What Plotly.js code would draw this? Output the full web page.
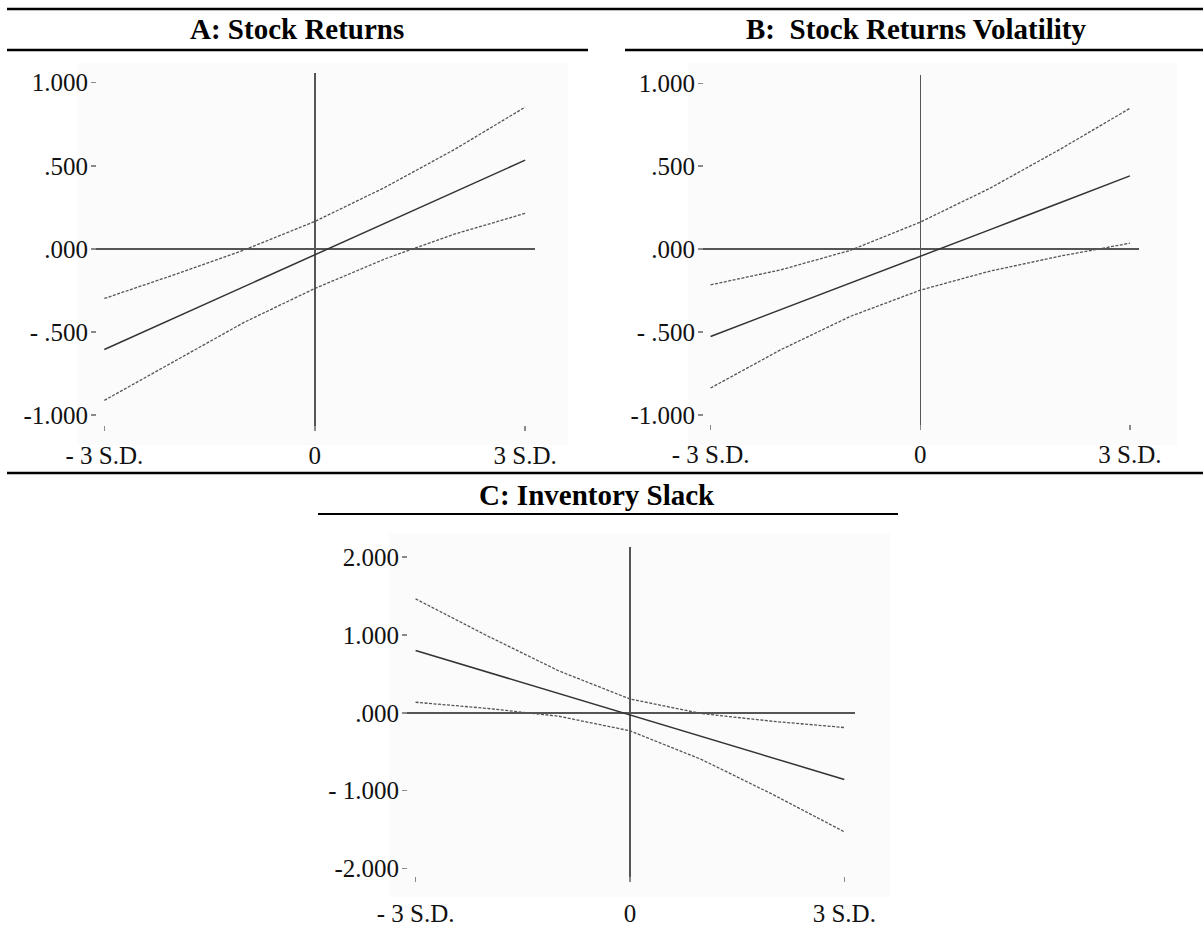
<!DOCTYPE html>
<html>
<head>
<meta charset="utf-8">
<script src="https://cdn.plot.ly/plotly-3.0.1.min.js"></script>
<style>html,body{margin:0;padding:0;background:#fff;} #chart{width:1203px;height:934px;}</style>
</head>
<body>
<div id="chart"></div>
<script>
// ---- data ----
const sdPoints = [-3, -2, -1, 0, 1, 2, 3];
const xTickVals = [-3, 0, 3];
const xTickText = ['- 3 S.D.', '0', '3 S.D.'];

const panelATitle = 'A: Stock Returns';
const meanA  = [-0.605, -0.415, -0.225, -0.035, 0.155, 0.345, 0.534];
const upperA = [-0.298, -0.155, -0.005, 0.165, 0.370, 0.600, 0.853];
const lowerA = [-0.911, -0.675, -0.440, -0.238, -0.060, 0.090, 0.214];

const panelBTitle = 'B:\u00a0 Stock Returns Volatility';
const meanB  = [-0.526, -0.366, -0.206, -0.044, 0.118, 0.280, 0.442];
const upperB = [-0.215, -0.125, -0.007, 0.163, 0.368, 0.602, 0.849];
const lowerB = [-0.837, -0.607, -0.405, -0.247, -0.132, -0.042, 0.036];

const panelCTitle = 'C: Inventory Slack';
const meanC  = [0.800, 0.525, 0.250, -0.028, -0.305, -0.580, -0.857];
const upperC = [1.464, 0.990, 0.540, 0.177, -0.010, -0.110, -0.190];
const lowerC = [0.135, 0.056, -0.044, -0.232, -0.600, -1.050, -1.530];

const yTickValsAB = [1, 0.5, 0, -0.5, -1];
const yTickTextAB = ['1.000', '.500', '.000', '- .500', '-1.000'];
const yTickValsC = [2, 1, 0, -1, -2];
const yTickTextC = ['2.000', '1.000', '.000', '- 1.000', '-2.000'];

// ---- styling helpers ----
const W = 1203, H = 934;
const FONT = 'Liberation Serif, Times New Roman, serif';
const px = v => v / W;
const py = v => 1 - v / H;

function lineTrace(y, xa, ya, dashed) {
  return {
    type: 'scatter', mode: 'lines', x: sdPoints, y: y,
    xaxis: xa, yaxis: ya, hoverinfo: 'skip', showlegend: false,
    line: dashed ? {color: '#555555', width: 1.3, dash: '3px,1.5px'}
                 : {color: '#333333', width: 1.5}
  };
}

const data = [
  lineTrace(upperA, 'x', 'y', true), lineTrace(lowerA, 'x', 'y', true), lineTrace(meanA, 'x', 'y', false),
  lineTrace(upperB, 'x2', 'y2', true), lineTrace(lowerB, 'x2', 'y2', true), lineTrace(meanB, 'x2', 'y2', false),
  lineTrace(upperC, 'x3', 'y3', true), lineTrace(lowerC, 'x3', 'y3', true), lineTrace(meanC, 'x3', 'y3', false)
];

function xAxis(domainPx, range, anchor, standoff) {
  return {
    domain: [px(domainPx[0]), px(domainPx[1])], range: range, anchor: anchor,
    showgrid: false, showline: false, zeroline: true, zerolinecolor: '#555555', zerolinewidth: 1.5,
    tickmode: 'array', tickvals: xTickVals, ticktext: xTickText,
    ticks: 'inside', ticklen: 5, tickwidth: 1.5, tickcolor: '#8a8a8a',
    ticklabelstandoff: standoff,
    tickfont: {family: FONT, size: 25, color: '#111'}, fixedrange: true
  };
}
function yAxis(domainPx, range, anchor, vals, text) {
  return {
    domain: [py(domainPx[1]), py(domainPx[0])], range: range, anchor: anchor,
    showgrid: false, showline: false, zeroline: true, zerolinecolor: '#555555', zerolinewidth: 1.5,
    tickmode: 'array', tickvals: vals, ticktext: text,
    ticks: 'inside', ticklen: 5, tickwidth: 1.5, tickcolor: '#8a8a8a',
    ticklabelstandoff: 2,
    tickfont: {family: FONT, size: 25, color: '#111'}, fixedrange: true
  };
}

function rule(x0, x1, y, w) {
  return {type: 'line', xref: 'paper', yref: 'paper', x0: px(x0), x1: px(x1), y0: py(y), y1: py(y),
          line: {color: '#000', width: w || 2.5}};
}
function bgRect(x0, x1, y0, y1) {
  return {type: 'rect', xref: 'paper', yref: 'paper', layer: 'below',
          x0: px(x0), x1: px(x1), y0: py(y1), y1: py(y0),
          fillcolor: '#fbfbfb', line: {width: 0}};
}
function title(text, xc, yc) {
  return {text: '<b>' + text + '</b>', xref: 'paper', yref: 'paper', x: px(xc), y: py(yc),
          xanchor: 'center', yanchor: 'middle', showarrow: false,
          font: {family: FONT, size: 29, color: '#000'}};
}

const layout = {
  width: W, height: H, margin: {l: 0, r: 0, t: 0, b: 0},
  paper_bgcolor: '#fff', plot_bgcolor: 'rgba(0,0,0,0)', showlegend: false,
  xaxis:  xAxis([91, 535], [-3.19, 3.14], 'y', 7),
  yaxis:  yAxis([73, 431], [-1.095, 1.058], 'x', yTickValsAB, yTickTextAB),
  xaxis2: xAxis([698, 1139], [-3.18, 3.13], 'y2', 7),
  yaxis2: yAxis([75, 430], [-1.09, 1.05], 'x2', yTickValsAB, yTickTextAB),
  xaxis3: xAxis([402, 855], [-3.19, 3.15], 'y3', 14),
  yaxis3: yAxis([547, 882], [-2.175, 2.13], 'x3', yTickValsC, yTickTextC),
  shapes: [
    bgRect(77, 568, 63, 445), bgRect(688, 1177, 63, 445), bgRect(389, 890, 533, 897),
    rule(7, 1203, 9), rule(7, 588, 50), rule(625, 1203, 50), rule(7, 1203, 473), rule(318, 898, 514, 2)
  ],
  annotations: [
    title(panelATitle, 297, 29), title(panelBTitle, 916, 29), title(panelCTitle, 597, 495)
  ]
};

Plotly.newPlot('chart', data, layout, {displayModeBar: false, staticPlot: true});
</script>
</body>
</html>
